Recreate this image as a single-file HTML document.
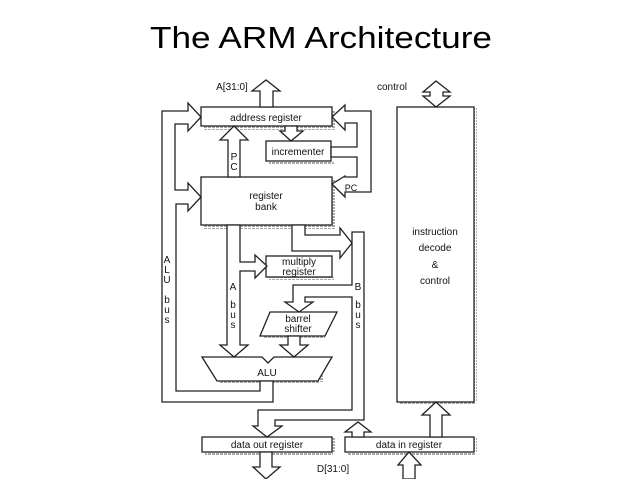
<!DOCTYPE html>
<html><head><style>body{margin:0;background:#fff}svg{display:block}</style></head>
<body>
<svg width="638" height="479" xmlns="http://www.w3.org/2000/svg" font-family="Liberation Sans, sans-serif">
<text x="321" y="48" font-size="31" text-anchor="middle" textLength="342" lengthAdjust="spacingAndGlyphs">The ARM Architecture</text>
<defs><pattern id="h" width="4" height="3" patternUnits="userSpaceOnUse"><rect width="3" height="2" fill="#aaa"/></pattern></defs>
<g fill="url(#h)">
<rect x="204" y="126" width="131" height="4"/><rect x="332" y="110" width="3" height="18"/>
<rect x="269" y="161" width="65" height="3"/>
<rect x="204" y="225" width="131" height="4"/><rect x="332" y="180" width="3" height="48"/>
<rect x="269" y="277" width="65" height="3"/>
<rect x="263" y="336" width="62" height="3"/>
<rect x="220" y="381" width="100" height="3"/><rect x="320" y="360" width="3" height="22"/>
<rect x="400" y="400" width="76" height="4"/><rect x="474" y="107" width="3" height="295"/>
<rect x="205" y="452" width="128" height="3"/><rect x="332" y="438" width="3" height="15"/>
<rect x="348" y="452" width="128" height="3"/><rect x="474" y="438" width="3" height="15"/>
</g>
<g fill="#fff" stroke="#222" stroke-width="1.3">
<!-- boxes -->
<rect x="201" y="107" width="131" height="19"/>
<rect x="266" y="141" width="65" height="20"/>
<rect x="201" y="177" width="131" height="48"/>
<rect x="266" y="256" width="66" height="21"/>
<polygon points="270,312 337,312 325,336 260,336"/>
<polygon points="202,357 262,357 268,363 274,357 332,357 318,381 217,381"/>
<rect x="397" y="107" width="77" height="295"/>
<rect x="202" y="437" width="130" height="15"/>
<rect x="345" y="437" width="129" height="15"/>
<!-- A[31:0] -->
<polygon points="260,107 260,91 252,91 266,80 280,91 273,91 273,107"/>
<!-- control -->
<polygon points="436,81 450,92 443,92 443,96 450,96 436,107 423,96 430,96 430,92 423,92"/>
<!-- PC bus up -->
<polygon points="228,177 228,140 220,140 234,126 248,140 240,140 240,177"/>
<!-- addr to incrementer -->
<polygon points="285,126 285,131 280,131 291,141 303,131 297,131 297,126"/>
<!-- ALU bus -->
<polygon points="273,381 273,402 162,402 162,111 188,111 188,103 201,117 188,131 188,124 175,124 175,190 188,190 188,183 201,197 188,211 188,204 176,204 176,391 260,391 260,381"/>
<!-- right feedback -->
<polygon points="345,105 332,117 345,130 345,123 357,123 357,147 331,147 331,157 357,157 357,177 345,177 345,176 332,184 345,197 345,192 371,192 371,111 345,111"/>
<!-- reg bank to B bus -->
<polygon points="292,225 292,251 340,251 340,258 352,243 340,228 340,235 305,235 305,225"/>
<!-- B bus -->
<polygon points="352,232 364,232 364,420 275,420 275,426 282,426 267,437 253,426 258,426 258,410 352,410 352,297 305,297 305,302 313,302 299,312 285,302 293,302 293,285 352,285"/>
<!-- A bus + multiply -->
<polygon points="227,225 227,345 220,345 234,357 248,345 240,345 240,271 255,271 255,278 267,266 255,255 255,262 240,262 240,225"/>
<!-- barrel to ALU -->
<polygon points="288,336 288,345 280,345 294,357 308,345 300,345 300,336"/>
<!-- data in up to B bus -->
<polygon points="352,437 352,432 345,432 358,422 371,432 364,432 364,437"/>
<!-- data in to decode -->
<polygon points="430,437 430,415 422,415 436,402 450,415 442,415 442,437"/>
<!-- data out down -->
<polygon points="260,452 260,467 253,467 266,479 280,467 272,467 272,452"/>
<!-- D in up -->
<polygon points="403,479 403,465 398,465 409,452 421,465 415,465 415,479"/>
</g>
<g font-size="10" text-anchor="middle" fill="#111">
<text x="266" y="121">address register</text>
<text x="298" y="155">incrementer</text>
<text x="266" y="199">register</text><text x="266" y="210">bank</text>
<text x="299" y="265">multiply</text><text x="299" y="275">register</text>
<text x="298" y="322">barrel</text><text x="298" y="332">shifter</text>
<text x="267" y="376">ALU</text>
<text x="267" y="448">data out register</text>
<text x="409" y="448">data in register</text>
<text x="232" y="90">A[31:0]</text>
<text x="392" y="90">control</text>
<text x="333" y="472">D[31:0]</text>
<text x="435" y="235">instruction</text>
<text x="435" y="251">decode</text>
<text x="435" y="268">&amp;</text>
<text x="435" y="284">control</text>
<text x="351" y="191" font-size="9">PC</text>
<text x="234" y="160">P</text><text x="234" y="170">C</text>
<text x="167" y="263">A</text><text x="167" y="273">L</text><text x="167" y="283">U</text>
<text x="167" y="303">b</text><text x="167" y="313">u</text><text x="167" y="323">s</text>
<text x="233" y="290">A</text><text x="233" y="308">b</text><text x="233" y="318">u</text><text x="233" y="328">s</text>
<text x="358" y="290">B</text><text x="358" y="308">b</text><text x="358" y="318">u</text><text x="358" y="328">s</text>
</g>
</svg>
</body></html>
